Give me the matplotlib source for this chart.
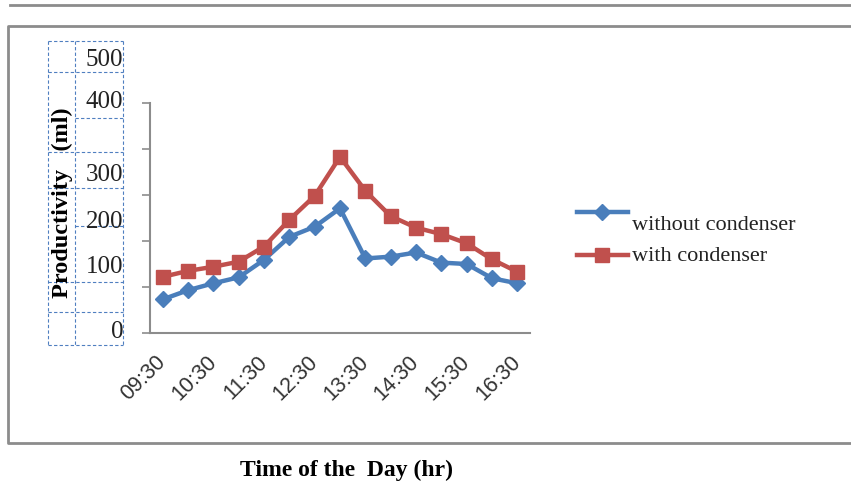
import numpy as np
import matplotlib.pyplot as plt
from matplotlib.lines import Line2D

times = ['09:30', '10:00', '10:30', '11:00', '11:30', '12:00', '12:30', '13:00',
         '13:30', '14:00', '14:30', '15:00', '15:30', '16:00', '16:30']
without_cond = [73, 93, 108, 121, 159, 209, 231, 271, 162, 166, 175, 153, 150, 119, 108]
with_cond = [122, 135, 144, 155, 188, 246, 298, 383, 309, 254, 229, 215, 195, 160, 133]
ylabels = ['0', '100', '200', '300', '400', '500']

blue = '#4a7ebb'
red = '#c0504d'
serif = ['Liberation Serif', 'DejaVu Serif']

W, H = 851, 490
fig = plt.figure(figsize=(W / 100, H / 100), dpi=100)

def fx(px):
    return px / W

def fy(py):
    return 1 - py / H

# outer frame lines
fig.add_artist(Line2D([fx(10), 1], [fy(5), fy(5)], color='#8c8c8c', lw=2))
fig.add_artist(Line2D([1, fx(8), fx(8), 1], [fy(26), fy(26), fy(443), fy(443)],
                      color='#8c8c8c', lw=2))

ax = fig.add_axes([fx(150), fy(333), fx(530) - fx(150), fy(103) - fy(333)])
x = np.arange(len(times))
ax.plot(x, without_cond, color=blue, lw=3.2, marker='D', ms=8.5, mec=blue, mfc=blue)
ax.plot(x, with_cond, color=red, lw=3.2, marker='s', ms=10.5, mec=red, mfc=red)

ax.set_xlim(-0.5, len(times) - 0.5)
ax.set_ylim(0, 500)
ax.set_yticks(range(0, 501, 100))
ax.set_yticklabels([])
ax.tick_params(axis='y', length=6, width=1.2, color='#8c8c8c', direction='out')
ax.set_xticks(x[::2])
ax.set_xticklabels(times[::2], rotation=45, ha='right', va='center',
                   rotation_mode='anchor', fontsize=15.5, color='#333333',
                   family=['Liberation Sans', 'DejaVu Sans'])
ax.tick_params(axis='x', length=0, pad=19)
for s in ['top', 'right']:
    ax.spines[s].set_visible(False)
for s in ['left', 'bottom']:
    ax.spines[s].set_color('#8c8c8c')
    ax.spines[s].set_linewidth(1.5)

# dashed text-box grid holding the y labels
gcol = '#4f7fc0'
for gx in [48, 75, 123]:
    fig.add_artist(Line2D([fx(gx), fx(gx)], [fy(41), fy(345)], color=gcol,
                          lw=0.8, ls=(0, (3, 2))))
for gy in [41, 72, 152, 188, 282, 312, 345]:
    fig.add_artist(Line2D([fx(48), fx(123)], [fy(gy), fy(gy)], color=gcol,
                          lw=0.8, ls=(0, (3, 2))))
for gy in [118, 226]:
    fig.add_artist(Line2D([fx(75), fx(123)], [fy(gy), fy(gy)], color=gcol,
                          lw=0.8, ls=(0, (3, 2))))
for lab, py in zip(ylabels, [332, 267, 222, 175, 102, 60]):
    fig.text(fx(123), fy(py), lab, ha='right', va='center', fontsize=18,
             family=serif, color='#222222')

fig.text(fx(62), fy(203), 'Productivity   (ml)', rotation=90, ha='center',
         va='center', fontsize=17.5, fontweight='bold', family=serif)
fig.text(fx(346), fy(470), 'Time of the  Day (hr)', ha='center', va='center',
         fontsize=17, fontweight='bold', family=serif)

# legend
fig.add_artist(Line2D([fx(577), fx(628)], [fy(212), fy(212)], color=blue, lw=3.2))
fig.add_artist(Line2D([fx(602)], [fy(212)], color=blue, marker='D', ms=8.5))
fig.add_artist(Line2D([fx(577), fx(628)], [fy(255), fy(255)], color=red, lw=3.2))
fig.add_artist(Line2D([fx(602)], [fy(255)], color=red, marker='s', ms=10.5))
fig.text(fx(632), fy(226), 'without condenser', ha='left', va='center',
         fontsize=16, family=serif, color='#222222')
fig.text(fx(632), fy(256), 'with condenser', ha='left', va='center',
         fontsize=16, family=serif, color='#222222')

fig.savefig('out.png', dpi=100)
